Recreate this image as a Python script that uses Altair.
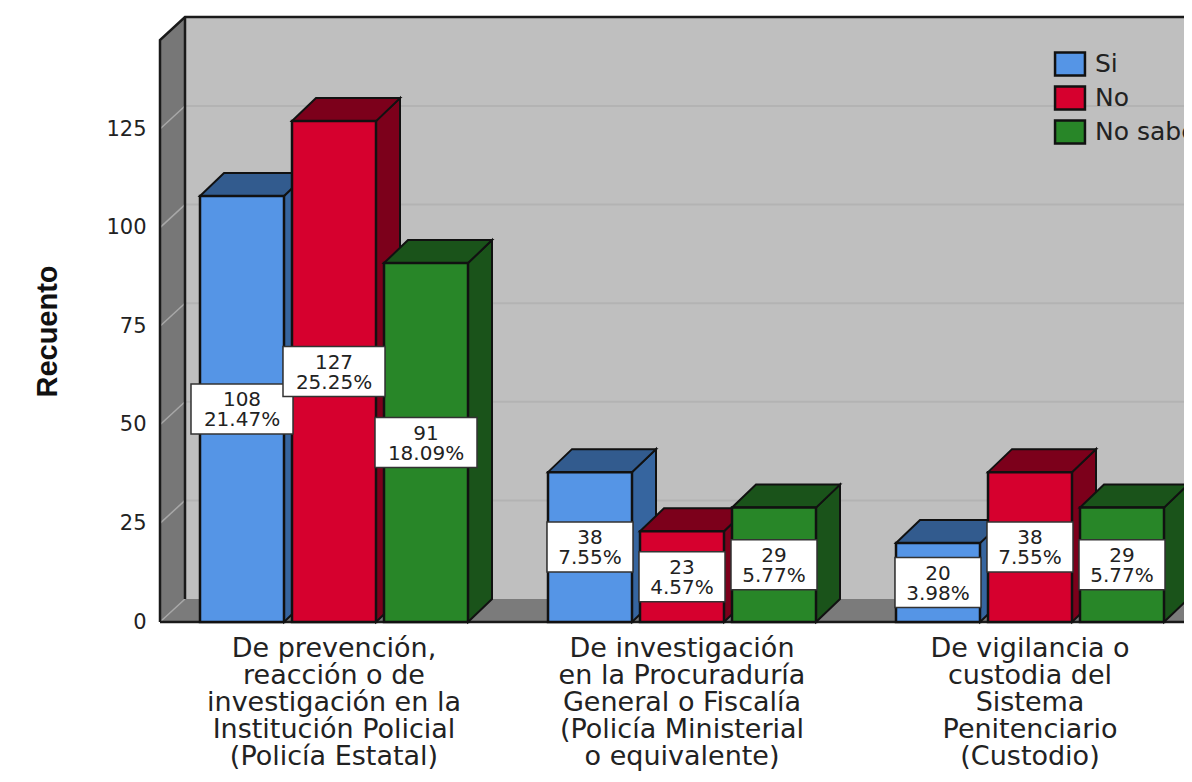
import altair as alt
import pandas as pd

categorias = [
    "De prevención,|reacción o de|investigación en la|Institución Policial|(Policía Estatal)",
    "De investigación|en la Procuraduría|General o Fiscalía|(Policía Ministerial|o equivalente)",
    "De vigilancia o|custodia del|Sistema|Penitenciario|(Custodio)",
]
series = ["Si", "No", "No sabe"]
recuento = {"Si": [108, 38, 20], "No": [127, 23, 38], "No sabe": [91, 29, 29]}
porcentaje = {
    "Si": ["21.47%", "7.55%", "3.98%"],
    "No": ["25.25%", "4.57%", "7.55%"],
    "No sabe": ["18.09%", "5.77%", "5.77%"],
}
color_frente = ["#5595E6", "#D6002E", "#288628"]
color_techo = ["#325B8E", "#7C001B", "#1A531A"]
color_lado = ["#36659F", "#7C001B", "#1A531A"]
ticks = [0, 25, 50, 75, 100, 125]

W, H = 1024, 605
PX = 3.944            # pixels per count
Y_MAX = H / PX
DX, DY = 24, 23 / PX  # depth of the 3D projection
WALL = 25
G0, GSTEP, BSTEP, BW = 40, 348, 92, 84
BOX_H = 25 / PX

front, faces, boxes = [], [], []
for si, s in enumerate(series):
    for gi in range(3):
        v = recuento[s][gi]
        x0 = G0 + gi * GSTEP + si * BSTEP
        x1 = x0 + BW
        bid = f"{s}-{gi}"
        front.append(dict(serie=s, bar=bid, x=x0, x2=x1, y=0, y2=v))
        for x, a, b in [(x1, 0, v), (x1 + DX, DY, v + DY)]:
            faces.append(dict(serie=s, bar=bid, face="lado", x=x, y=a, y2=b))
        for x, a, b in [(x0, v, v), (x0 + DX, v, v + DY), (x1, v, v + DY), (x1 + DX, v + DY, v + DY)]:
            faces.append(dict(serie=s, bar=bid, face="techo", x=x, y=a, y2=b))
        p = porcentaje[s][gi]
        w = 51 if len(p) == 6 else 43
        c = (x0 + x1) / 2
        boxes.append(dict(serie=s, x=c - w, x2=c + w, xc=c, y=v / 2 - BOX_H, y2=v / 2 + BOX_H,
                          yc=v / 2, t=f"{v}|{p}"))
front, faces, boxes = pd.DataFrame(front), pd.DataFrame(faces), pd.DataFrame(boxes)

x_scale = alt.Scale(domain=[0, W], nice=False, zero=False)
y_scale = alt.Scale(domain=[0, Y_MAX], nice=False, zero=False)
y_axis = alt.Axis(values=ticks, grid=False, domain=False, ticks=False, labelPadding=14,
                  labelFont="DejaVu Sans", labelFontSize=21, labelColor="#222",
                  title="Recuento", titleFont="Liberation Sans", titleFontSize=29,
                  titleFontWeight="bold", titleColor="#111", titleX=-113, titleY=314,
                  titleAngle=270, titleAlign="center", titleBaseline="middle")
X = alt.X("x:Q", scale=x_scale, axis=None)
Y = alt.Y("y:Q", stack=None, scale=y_scale, axis=y_axis)

# walls and floor
back_df = pd.DataFrame([dict(x=WALL, x2=W, y=DY, y2=Y_MAX)])
back = alt.Chart(back_df).mark_rect(fill="#BFBFBF").encode(X, alt.X2("x2:Q"), Y, alt.Y2("y2:Q"))

left_df = pd.DataFrame([dict(x=0, y=0, y2=Y_MAX - DY), dict(x=WALL, y=DY, y2=Y_MAX)])
left = alt.Chart(left_df).mark_area(fill="#777777").encode(X, Y, alt.Y2("y2:Q"))
floor_df = pd.DataFrame([dict(x=0, y=0, y2=0), dict(x=WALL, y=0, y2=DY), dict(x=W, y=0, y2=DY)])
floor = alt.Chart(floor_df).mark_area(fill="#7B7B7B").encode(X, Y, alt.Y2("y2:Q"))

grid_rows, slant_rows = [], []
for t in ticks[1:]:
    grid_rows += [dict(g=t, x=WALL, y=t + DY), dict(g=t, x=W, y=t + DY)]
for t in ticks:
    slant_rows += [dict(g=t, x=0, y=t), dict(g=t, x=WALL, y=t + DY)]
grid = alt.Chart(pd.DataFrame(grid_rows)).mark_line(color="#B3B3B3", strokeWidth=2).encode(X, Y, alt.Detail("g:N"))
slant = alt.Chart(pd.DataFrame(slant_rows)).mark_line(color="#A8A8A8", strokeWidth=1.5).encode(X, Y, alt.Detail("g:N"))

edges = pd.DataFrame([
    dict(e="a", x=0, y=0), dict(e="a", x=0, y=Y_MAX - DY), dict(e="a", x=WALL, y=Y_MAX), dict(e="a", x=W, y=Y_MAX),
    dict(e="b", x=WALL, y=DY), dict(e="b", x=WALL, y=Y_MAX),
    dict(e="c", x=0, y=0), dict(e="c", x=W, y=0),
])
edge = alt.Chart(edges).mark_line(color="#1A1A1A", strokeWidth=2.5).encode(X, Y, alt.Detail("e:N"))

layers = [back, left, floor, grid, slant, edge]

# bars, left to right so nearer bars paint over the depth of earlier ones
for si, s in enumerate(series):
    fc = faces[faces.serie == s]
    layers.append(alt.Chart(fc[fc.face == "lado"]).mark_area(fill=color_lado[si], stroke="#111", strokeWidth=2)
                  .encode(X, Y, alt.Y2("y2:Q"), alt.Detail("bar:N")))
    layers.append(alt.Chart(fc[fc.face == "techo"]).mark_area(fill=color_techo[si], stroke="#111", strokeWidth=2)
                  .encode(X, Y, alt.Y2("y2:Q"), alt.Detail("bar:N")))
    layers.append(alt.Chart(front[front.serie == s]).mark_rect(stroke="#111", strokeWidth=2.5).encode(
        X, alt.X2("x2:Q"), Y, alt.Y2("y2:Q"),
        fill=alt.Fill("serie:N", scale=alt.Scale(domain=series, range=color_frente),
                      legend=alt.Legend(orient="none", legendX=897, legendY=34, title=None,
                                        symbolType="M-1.3,-1H1.3V1H-1.3Z", symbolSize=529,
                                        symbolStrokeColor="#111", symbolStrokeWidth=2.5, symbolOpacity=1,
                                        labelFont="DejaVu Sans", labelFontSize=25, labelColor="#222",
                                        labelLimit=400, labelOffset=12, rowPadding=0))))

# value labels
layers.append(alt.Chart(boxes).mark_rect(fill="white", stroke="#333", strokeWidth=1.5).encode(
    X, alt.X2("x2:Q"), Y, alt.Y2("y2:Q")))
layers.append(alt.Chart(boxes).mark_text(font="DejaVu Sans", fontSize=20, lineBreak="|", lineHeight=20,
                                         color="#222", baseline="middle", align="center", dy=-9).encode(
    x=alt.X("xc:Q", scale=x_scale, axis=None), y=alt.Y("yc:Q", scale=y_scale, axis=y_axis), text="t:N"))

# category labels
cat_df = pd.DataFrame(dict(x=[G0 + i * GSTEP + BSTEP + BW / 2 for i in range(3)], t=categorias))
layers.append(alt.Chart(cat_df).mark_text(font="DejaVu Sans", fontSize=27, lineBreak="|", lineHeight=27,
                                          color="#222", baseline="top", align="center", clip=False).encode(
    X, y=alt.value(H + 14), text="t:N"))

chart = alt.layer(*layers).properties(
    width=W, height=H, autosize=alt.AutoSizeParams(type="none"),
    padding={"left": 152, "top": 9, "right": 0, "bottom": 152},
).configure_view(stroke=None)

chart.save("out.html", embed_options={"renderer": "svg", "actions": False})
